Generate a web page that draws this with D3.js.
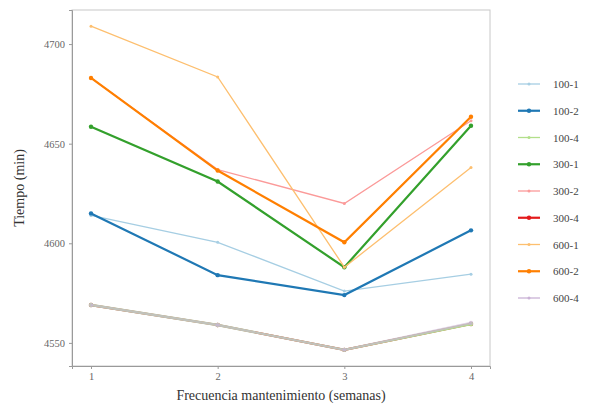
<!DOCTYPE html>
<html>
<head>
<meta charset="utf-8">
<script src="https://cdn.jsdelivr.net/npm/d3@7"></script>
<style>
  body { margin: 0; background: #fff; }
  text { font-family: "Liberation Serif", "DejaVu Serif", serif; }
</style>
</head>
<body>
<svg id="chart" width="589" height="408"></svg>
<script>
// data
const frecuencias = [1, 2, 3, 4];
const series = ["100-1", "100-2", "100-4", "300-1", "300-2", "300-4", "600-1", "600-2", "600-4"];
const colores = ["#a6cee3", "#1f78b4", "#b2df8a", "#33a02c", "#fb9a99", "#e31a1c", "#fdbf6f", "#ff7f00", "#cab2d6"];
const grosor = [1.3, 2.2, 1.3, 2.2, 1.3, 2.2, 1.3, 2.2, 1.3];
const v100_1 = [4614, 4600.5, 4576, 4584.5];
const v100_2 = [4615, 4584, 4574, 4606.5];
const v100_4 = [4569, 4559, 4546.5, 4559.5];
const v300_1 = [4658.5, 4631, 4588, 4659];
const v300_2 = [4683, 4637, 4620, 4661.5];
const v300_4 = [4569, 4559, 4546.5, 4559.5];
const v600_1 = [4709, 4683.5, 4588, 4638];
const v600_2 = [4683, 4636.5, 4600.5, 4663.5];
const v600_4 = [4569, 4559, 4546.5, 4560];
const valores = [v100_1, v100_2, v100_4, v300_1, v300_2, v300_4, v600_1, v600_2, v600_4];
const yTicks = [4550, 4600, 4650, 4700];

const svg = d3.select("#chart");
const panel = { left: 72, top: 10, right: 490, bottom: 366 };

const x = d3.scaleLinear().domain([0.85, 4.15]).range([panel.left, panel.right]);
const y = d3.scaleLinear().domain([4538.4, 4717.1]).range([panel.bottom, panel.top]);

// panel border
svg.append("rect")
  .attr("x", panel.left).attr("y", panel.top)
  .attr("width", panel.right - panel.left).attr("height", panel.bottom - panel.top)
  .attr("fill", "none").attr("stroke", "#c8c8c8").attr("stroke-width", 1);

// axes
const yAxis = svg.append("g")
  .attr("transform", `translate(${panel.left},0)`)
  .call(d3.axisLeft(y).tickValues(yTicks).tickSize(3).tickPadding(4).tickFormat(d3.format("d")));
const xAxis = svg.append("g")
  .attr("transform", `translate(0,${panel.bottom})`)
  .call(d3.axisBottom(x).tickValues(frecuencias).tickSize(3).tickPadding(4).tickFormat(d3.format("d")));
[yAxis, xAxis].forEach(ax => {
  ax.attr("font-family", "'Liberation Serif', serif");
  ax.select(".domain").attr("stroke", "#9a9a9a");
  ax.selectAll(".tick line").attr("stroke", "#9a9a9a");
  ax.selectAll(".tick text").attr("fill", "#666").style("font-size", "10.5px");
});

// lines: the three low series overlap, so the light ones go over the red one
const line = d3.line().x((d, i) => x(frecuencias[i])).y(d => y(d));
const orden = [5, 2, 8, 0, 1, 3, 4, 6, 7];
const ancho = k => (k === 2 || k === 8) ? 2.4 : grosor[k];
orden.forEach(k => {
  const g = svg.append("g");
  g.append("path")
    .datum(valores[k])
    .attr("d", line)
    .attr("fill", "none")
    .attr("stroke", colores[k])
    .attr("stroke-width", ancho(k))
    .attr("stroke-opacity", k === 8 ? 0.65 : 1);
  g.selectAll("circle")
    .data(valores[k])
    .enter()
    .append("circle")
    .attr("cx", (d, i) => x(frecuencias[i]))
    .attr("cy", d => y(d))
    .attr("r", ancho(k) > 2 ? 2.2 : 1.5)
    .attr("fill", colores[k])
    .attr("fill-opacity", k === 8 ? 0.65 : 1);
});

// axis titles
svg.append("text")
  .attr("x", (panel.left + panel.right) / 2).attr("y", 400)
  .attr("text-anchor", "middle").attr("fill", "#333")
  .style("font-size", "14px")
  .text("Frecuencia mantenimiento (semanas)");
svg.append("text")
  .attr("transform", `translate(24,${(panel.top + panel.bottom) / 2}) rotate(-90)`)
  .attr("text-anchor", "middle").attr("fill", "#333")
  .style("font-size", "14px")
  .text("Tiempo (min)");

// legend
const legend = svg.append("g").attr("transform", "translate(518,84)");
series.forEach((s, i) => {
  const item = legend.append("g").attr("transform", `translate(0,${i * 26.75})`);
  item.append("line")
    .attr("x1", 0).attr("x2", 22).attr("y1", 0).attr("y2", 0)
    .attr("stroke", colores[i]).attr("stroke-width", grosor[i]);
  item.append("circle").attr("cx", 11).attr("cy", 0)
    .attr("r", grosor[i] > 2 ? 2.2 : 1.5).attr("fill", colores[i]);
  item.append("text")
    .attr("x", 35).attr("y", 4)
    .attr("fill", "#444").style("font-size", "11px")
    .text(s);
});
</script>
</body>
</html>
